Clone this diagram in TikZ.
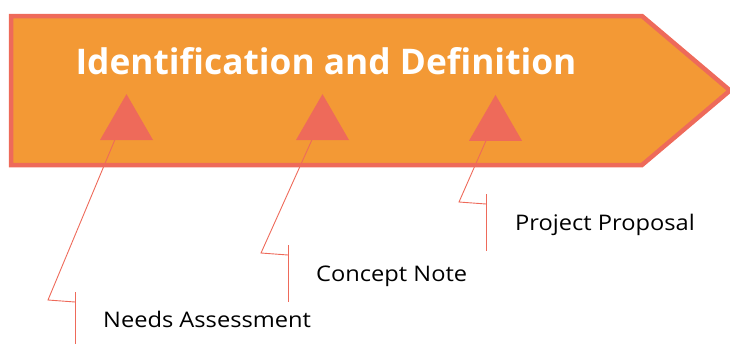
\documentclass[tikz,border=0pt]{standalone}
\usepackage{fontspec}
\setmainfont{Open Sans}
\newfontfamily\stagefont[FakeStretch=1.1]{Open Sans}
\usetikzlibrary{shapes.geometric,calc}
\definecolor{banner}{HTML}{F39935}
\definecolor{coral}{HTML}{EE6A5A}
\begin{document}
\begin{tikzpicture}[x=1pt,y=-1pt,
  marker/.style={regular polygon, regular polygon sides=3, fill=coral, inner sep=0pt, minimum size=61.2pt},
  lead/.style={draw=coral, line width=0.9pt},
  stage/.style={anchor=base west, inner sep=0pt, font=\stagefont\fontsize{21.5}{25}\selectfont}]
\useasboundingbox (0,0) rectangle (730,343);

\draw[line width=4.5pt, draw=coral, fill=banner] (11,16) -- (642,16) -- (730,90.5) -- (642,165) -- (11,165) -- cycle;

\node[text=white, font=\fontsize{35.3}{42}\bfseries] at (326,61) (title){Identification and Definition};

\node[marker] at (126.5,124.7) (tri1){};
\node[marker] at (322.5,124.7) (tri2){};
\node[marker] at (495.5,125.5) (tri3){};

\node[stage] at (103,327) (needs){Needs Assessment};
\node[stage] at (316,281) (concept){Concept Note};
\node[stage] at (515,230) (proposal){Project Proposal};

\coordinate (k1) at (48,300);
\coordinate (b1) at (75,302);
\coordinate (k2) at (261,253);
\coordinate (b2) at (288,255);
\coordinate (k3) at (459,202);
\coordinate (b3) at (486,204);

\draw[lead] ($(tri1.corner 2)!0.28!(tri1.corner 3)$) -- (k1) -- (b1);
\draw[lead] ($(b1)+(0,-10)$) -- ($(b1)+(0,47)$);

\draw[lead] ($(tri2.corner 2)!0.3!(tri2.corner 3)$) -- (k2) -- (b2);
\draw[lead] ($(b2)+(0,-10)$) -- ($(b2)+(0,47)$);

\draw[lead] ($(tri3.corner 2)!0.32!(tri3.corner 3)$) -- (k3) -- (b3);
\draw[lead] ($(b3)+(0,-10)$) -- ($(b3)+(0,47)$);

\end{tikzpicture}
\end{document}
